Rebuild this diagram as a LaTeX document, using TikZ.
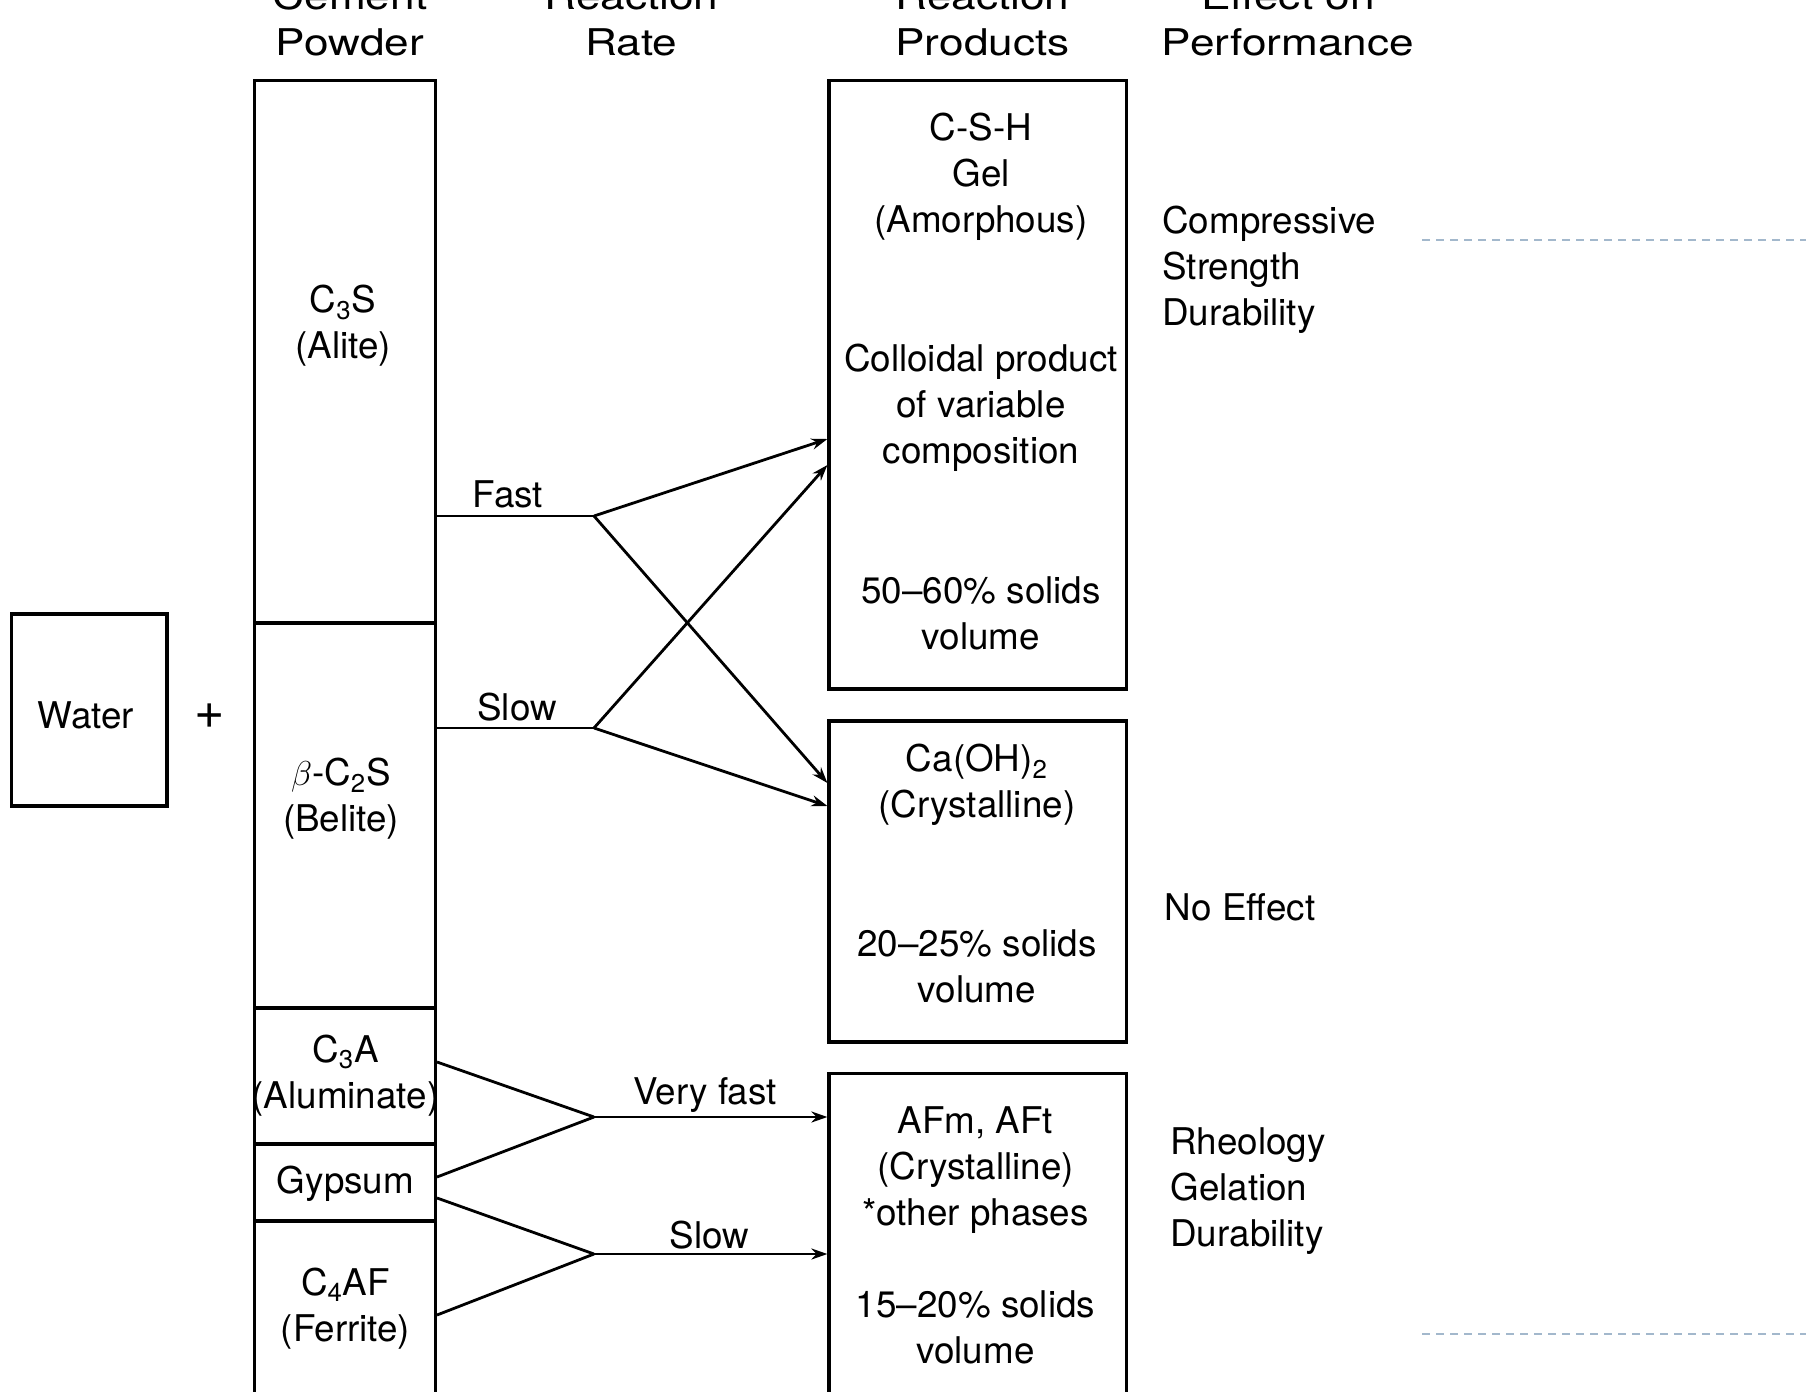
\documentclass[tikz,border=0pt]{standalone}
\usepackage{fontspec}
\setmainfont{TeX Gyre Heros}
\usetikzlibrary{arrows.meta,fit}
\begin{document}
\begin{tikzpicture}[x=0.5pt,y=-0.5pt,
  box/.style={draw=black, line width=1.6pt, inner sep=0pt},
  txt/.style={font=\fontsize{18.4}{23}\selectfont, align=center, inner sep=0pt},
  head/.style={font=\fontsize{18.4}{23}\selectfont, inner sep=0pt, anchor=base, xscale=1.2, transform shape},
  ltxt/.style={txt, align=left, anchor=west},
  conn/.style={line width=1.4pt},
  arr/.style={conn, -{Stealth[length=8pt,width=5.5pt]}},
  guide/.style={draw={rgb,255:red,163;green,184;blue,204}, line width=1pt, dash pattern=on 4pt off 3pt}
]
\useasboundingbox (0,0) rectangle (1806,1392);
\clip (0,0) rectangle (1806,1392);

% headers
\node[head] (h1a) at (350,10) {Cement};
\node[head] (h1b) at (350,55.5) {Powder};
\node[head] (h2a) at (631.5,10) {Reaction};
\node[head] (h2b) at (631.5,55.5) {Rate};
\node[head] (h3a) at (982.5,10) {Reaction};
\node[head] (h3b) at (982.5,55.5) {Products};
\node[head] (h4a) at (1288,10) {Effect on};
\node[head] (h4b) at (1288,55.5) {Performance};

% water
\node[box, fit={(11.5,614) (167,806)}] (water) {};
\node[txt] (watert) at (86,715) {Water};
\node[txt, font=\fontsize{26}{28}\selectfont] (plus) at (210,716) {+};

% cement column
\node[box, fit={(254.5,80.6) (435.4,623)}] (c3s) {};
\node[box, fit={(254.5,623) (435.4,1008)}] (c2s) {};
\node[box, fit={(254.5,1008) (435.4,1144)}] (c3a) {};
\node[box, fit={(254.5,1144) (435.4,1221)}] (gyp) {};
\node[box, fit={(254.5,1221) (435.4,1440)}] (c4af) {};

\node[txt] (c3st) at (343,326) {C\textsubscript{3}S\\(Alite)};
\node[txt] (c2st) at (341,799) {$\beta$-C\textsubscript{2}S\\(Belite)};
\node[txt] (c3at) at (345.5,1075.5) {C\textsubscript{3}A\\(Aluminate)};
\node[txt] (gypt) at (345.5,1183.5) {Gypsum};
\node[txt] (c4aft) at (345.5,1308.5) {C\textsubscript{4}AF\\(Ferrite)};

% product boxes
\node[box, fit={(829,80.6) (1126.5,689)}] (csh) {};
\node[box, fit={(829,721) (1126.5,1042)}] (caoh) {};
\node[box, fit={(829,1073.5) (1126.5,1440)}] (afm) {};

\node[txt] (csht1) at (981,176.8) {C-S-H\\Gel\\(Amorphous)};
\node[txt] (csht2) at (981,408) {Colloidal product\\of variable\\composition};
\node[txt] (csht3) at (981,613) {50--60\% solids\\volume};
\node[txt] (caoht1) at (977,785) {Ca(OH)\textsubscript{2}\\(Crystalline)};
\node[txt] (caoht2) at (977,966) {20--25\% solids\\volume};
\node[txt] (afmt1) at (975.5,1169.6) {AFm, AFt\\(Crystalline)\\*other phases};
\node[txt] (afmt2) at (975.5,1327) {15--20\% solids\\volume};

% effects
\node[ltxt] (e1) at (1162,270) {Compressive\\Strength\\Durability};
\node[ltxt] (e2) at (1164.5,907.6) {No Effect};
\node[ltxt] (e3) at (1170,1191.5) {Rheology\\Gelation\\Durability};

% junctions
\coordinate (fj) at (594,516);
\coordinate (sj) at (594,728);
\coordinate (vj) at (594,1117);
\coordinate (lj) at (594,1254);

\draw[conn] (c3s.east |- fj) -- (fj);
\draw[arr] (fj) -- (csh.west |- 0,439);
\draw[arr] (fj) -- (caoh.west |- 0,783);
\draw[conn] (c2s.east |- sj) -- (sj);
\draw[arr] (sj) -- (csh.west |- 0,465);
\draw[arr] (sj) -- (caoh.west |- 0,806);
\node[txt, anchor=south] (fastl) at (508,508) {Fast};
\node[txt, anchor=south] (slowl) at (517,722) {Slow};

\draw[conn] (c3a.east |- 0,1062) -- (vj);
\draw[conn] (gyp.east |- 0,1177) -- (vj);
\draw[arr] (vj) -- (afm.west |- vj);
\draw[conn] (gyp.east |- 0,1198) -- (lj);
\draw[conn] (c4af.east |- 0,1315) -- (lj);
\draw[arr] (lj) -- (afm.west |- lj);
\node[txt, anchor=south] (vfastl) at (705,1113) {Very fast};
\node[txt, anchor=south] (slow2l) at (709.5,1250) {Slow};

% dashed guides
\coordinate (g1a) at (1422,239.6);
\coordinate (g1b) at (1806,239.6);
\coordinate (g2a) at (1422,1334);
\coordinate (g2b) at (1806,1334);
\draw[guide] (g1a) -- (g1b);
\draw[guide] (g2a) -- (g2b);
\end{tikzpicture}
\end{document}
